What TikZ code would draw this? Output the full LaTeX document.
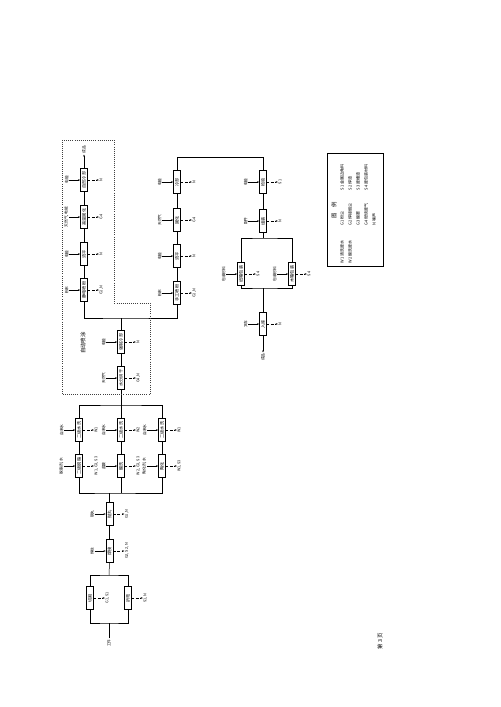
\documentclass[tikz,border=0pt]{standalone}
\usepackage{fontspec}
\newfontfamily\cjk{Noto Sans CJK SC}
\usetikzlibrary{arrows.meta, calc}

% one process box with its feed (left) and its emission (right)
\newcommand{\procunit}[6]{%
  \node[proc] (#1) at (#2,#3) {#4};
  \node[lab, anchor=south] (#1in) at ($(#1.north)+(-11,0)$) {#5};
  \node[lab, anchor=north] (#1out) at ($(#1.south)+(11,0)$) {#6};
  \draw[feed] (#1in.south) -- (#1.north);
  \draw[emit] (#1.south) -- (#1out.north);
}

\begin{document}
\begin{tikzpicture}[
  x=0.042cm, y=-0.042cm,
  line width=0.6pt,
  proc/.style={draw, rotate=90, fill=white, minimum width=27pt, minimum height=8.5pt, inner sep=1pt, font=\cjk\fontsize{5}{5}\selectfont},
  lab/.style={rotate=90, inner sep=0.6pt, font=\cjk\fontsize{4.5}{5}\selectfont},
  legitem/.style={rotate=90, anchor=west, inner sep=0.5pt, font=\cjk\fontsize{4.8}{5}\selectfont},
  feed/.style={-{Stealth[length=2.6pt, width=2pt]}},
  emit/.style={densely dashed, -{Stealth[length=2.6pt, width=2pt]}},
  zone/.style={dotted, line width=0.5pt, black!75}
]
\useasboundingbox (0,0) rectangle (500,707);
\fill[white] (0,0) rectangle (500,707);

% incoming parts, cutting
\node[lab] (gj) at (109,643) {工件};
\node[proc] (a1) at (90,598) {切割};
\node[lab, anchor=north] (a1out) at ($(a1.south)+(11,0)$) {G1, S1};
\draw[emit] (a1.south) -- (a1out.north);
\node[proc] (a2) at (128,598) {折弯};
\node[lab, anchor=north] (a2out) at ($(a2.south)+(11,0)$) {S1, N};
\draw[emit] (a2.south) -- (a2out.north);

\procunit{weld}{109.5}{551}{焊接}{焊丝}{G2, S2, N}
\procunit{blast}{109.5}{514}{抛丸}{钢丸}{G1, N}

% pre-treatment, three lines
\procunit{d1}{79}{466}{二级脱脂}{脱脂剂, 水}{W1, G3, S3}
\procunit{d2}{121}{466}{酸洗}{盐酸}{W2, G3, S3}
\procunit{d3}{162}{466}{陶化}{陶化剂, 水}{W1, S3}
\procunit{u1}{79}{430}{二级水洗}{自来水}{W1}
\procunit{u2}{121}{430}{二级水洗}{自来水}{W2}
\procunit{u3}{162}{430}{二级水洗}{自来水}{W1}

% drying
\procunit{dry}{121}{378}{水分烘干}{天然气}{G4, N}
\procunit{cool}{121}{342}{强制冷却}{电能}{N}

% automatic line
\procunit{l1}{84}{290}{静电喷粉}{粉末}{G1, N}
\procunit{l2}{84}{254}{流平}{电能}{N}
\procunit{l3}{84}{217}{高温固化}{天然气, 电能}{G4}
\procunit{l4}{84}{180}{自然冷却}{电能}{N}
\node[lab] (prodA) at (84,150) {成品};

% manual line
\procunit{r1}{177}{293}{手工喷粉}{粉末}{G1, N}
\procunit{r2}{177}{256}{流平}{电能}{N}
\procunit{r3}{177}{220}{固化}{天然气}{G4}
\procunit{r4}{177}{182}{冷却}{电能}{N}

% finishing
\procunit{g1}{263}{182}{检验}{电能}{S1}
\procunit{g2}{263}{221}{组装}{配件}{N}
\procunit{p1}{241}{274}{纸箱包装}{包装材料}{S4}
\procunit{p2}{292}{274}{木箱包装}{包装材料}{S4}
\procunit{g5}{263}{324}{入库}{叉车}{N}
\node[lab] (prodB) at (263,357) {成品};

% junctions
\coordinate (j1) at (109,623);
\coordinate (j2) at (109,575);
\coordinate (j3) at (109.5,493);
\coordinate (j4) at (121,405);
\coordinate (j5) at (121,318);
\coordinate (j6) at (177,157);
\coordinate (j8) at (263,238);
\coordinate (j9) at (263,288);

\draw (gj.east) -- (j1);
\draw (a1.west) |- (j1) -| (a2.west);
\draw (a1.east) |- (j2) -| (a2.east);
\draw (j2) -- (weld.west);
\draw (weld.east) -- (blast.west);
\draw (blast.east) -- (j3);
\draw (d1.west) |- (j3) -| (d3.west);
\draw (d2.west) -- (d2.west |- j3);
\draw (d1.east) -- (u1.west);
\draw (d2.east) -- (u2.west);
\draw (d3.east) -- (u3.west);
\draw (u1.east) |- (j4) -| (u3.east);
\draw (u2.east) -- (dry.west);
\draw (dry.east) -- (cool.west);
\draw (cool.east) -- (j5);
\draw (l1.west) |- (j5) -| (r1.west);
\draw (l1.east) -- (l2.west);
\draw (l2.east) -- (l3.west);
\draw (l3.east) -- (l4.west);
\draw[feed] (l4.east) -- (prodA.west);
\draw (r1.east) -- (r2.west);
\draw (r2.east) -- (r3.west);
\draw (r3.east) -- (r4.west);
\draw (r4.east) -- (j6) -| (g1.east);
\draw (g1.west) -- (g2.east);
\draw (g2.west) -- (j8);
\draw (p1.east) |- (j8) -| (p2.east);
\draw (p1.west) |- (j9) -| (p2.west);
\draw (j9) -- (g5.east);
\draw[feed] (g5.west) -- (prodB.east);

% automatic spraying zone
\draw[zone] (62,140) -- (114,140) -- (114,303) -- (150,303) -- (150,394) -- (62,394) -- cycle;
\node[rotate=90, font=\cjk\fontsize{6.5}{7}\selectfont] (zonelab) at (83,343) {自动喷涂};

% legend
\draw (327,153) rectangle (383,266);
\node[rotate=90, font=\cjk\fontsize{6.5}{7}\selectfont] (legt) at (334,210) {图\quad 例};
\node[legitem] (w1) at (342,264) {W1\ 清洗废水};
\node[legitem] (w2) at (350,264) {W2\ 酸洗废水};
\node[legitem] (gg1) at (342,226) {G1\ 粉尘};
\node[legitem] (gg2) at (350,226) {G2\ 焊接烟尘};
\node[legitem] (gg3) at (358,226) {G3\ 酸雾};
\node[legitem] (gg4) at (366,226) {G4\ 燃烧废气};
\node[legitem] (nn) at (374,226) {N\ 噪声};
\node[legitem] (s1) at (342,191) {S1\ 金属边角料};
\node[legitem] (s2) at (350,191) {S2\ 焊渣};
\node[legitem] (s3) at (358,191) {S3\ 废槽渣};
\node[legitem] (s4) at (366,191) {S4\ 废包装材料};

% page number
\node[rotate=90, font=\cjk\fontsize{6.5}{7}\selectfont] (page) at (380,641) {第 3 页};
\end{tikzpicture}
\end{document}
